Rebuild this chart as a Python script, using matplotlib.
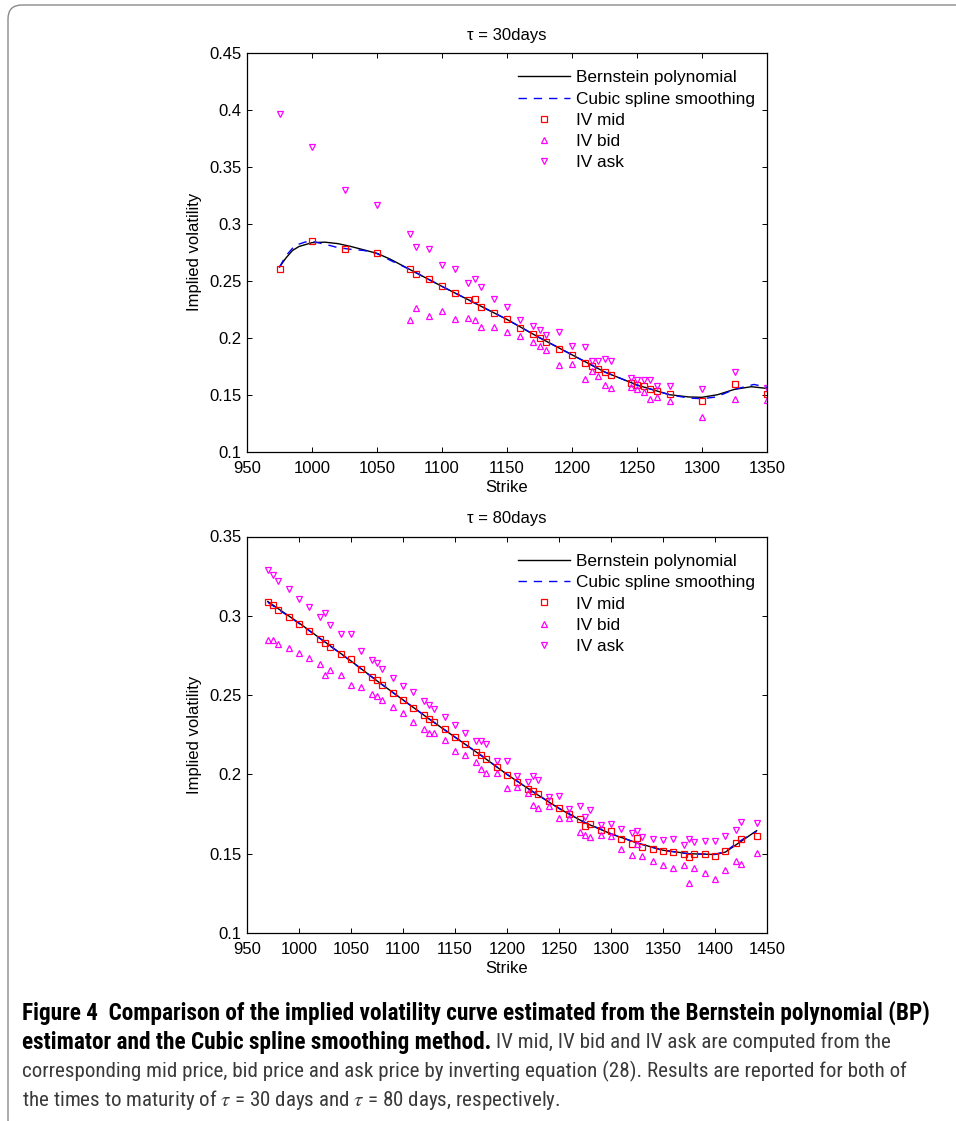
"""Figure 4: implied volatility curves, Bernstein polynomial vs cubic spline."""
import matplotlib
matplotlib.use("Agg")
import matplotlib.pyplot as plt
import numpy as np
from matplotlib.lines import Line2D
from matplotlib.patches import FancyBboxPatch

plt.rcParams.update({"font.family": ["Liberation Sans", "DejaVu Sans"],
                     "font.size": 12, "mathtext.fontset": "stix"})
RED, MAG, BLUE = "#FF0000", "#FF00FF", "#0000FF"
nan = np.nan

# ---- tau = 30 days ----
k30 = [975, 1000, 1025, 1050, 1075, 1080, 1090, 1100, 1110, 1120, 1125, 1130, 1140,
       1150, 1160, 1170, 1175, 1180, 1190, 1200, 1210, 1215, 1220, 1225, 1230, 1245,
       1250, 1255, 1260, 1265, 1275, 1300, 1325, 1350]
mid30 = [.2605, .285, .2775, .2743, .260, .256, .2518, .245, .2395, .233, .2337, .227,
         .2217, .216, .2088, .2032, .1997, .1962, .190, .1846, .178, .1749, .1723, .170,
         .1673, .1603, .1582, .1576, .155, .1532, .1509, .1445, .1597, .1509]
ask30 = [.396, .3675, .330, .316, .291, .280, .278, .264, .2605, .248, .2512, .2442,
         .2337, .2265, .2158, .210, .2065, .2024, .2047, .1925, .1916, .1796, .1796,
         .1812, .1793, .1644, .1626, .1626, .1626, .1574, .1574, .155, .1702, .1559]
bid30 = [nan, nan, nan, nan, .2158, .2258, .219, .2237, .216, .2173, .2152, .2092,
         .2095, .205, .2015, .1962, .1927, .1892, .1758, .1772, .164, .1708, .1664,
         .1583, .1557, .1565, .155, .1524, .146, .1483, .1447, .1307, .146, .1453]
bp30_k = [975, 980, 985, 990, 1000, 1010, 1020, 1030, 1040, 1050, 1060, 1075, 1100,
          1125, 1150, 1175, 1200, 1225, 1250, 1275, 1290, 1300, 1312, 1325, 1338, 1350]
bp30 = [.262, .270, .2765, .280, .2834, .2838, .2825, .2800, .2770, .2740, .2690,
        .2600, .2450, .2305, .2160, .2000, .1850, .1700, .1585, .1500, .1480, .1477,
        .1500, .1547, .1570, .1555]
cs30_k = [975, 980, 987, 995, 1000, 1010, 1020, 1030, 1040, 1050, 1060, 1075, 1100,
          1125, 1150, 1175, 1200, 1225, 1250, 1275, 1290, 1300, 1311, 1325, 1340, 1350]
cs30 = [.262, .272, .281, .284, .2845, .282, .279, .2775, .2765, .2738, .268, .260,
        .245, .2305, .216, .200, .185, .170, .1585, .150, .147, .1465, .148, .1547,
        .159, .1565]

# ---- tau = 80 days ----
k80 = [970, 975, 980, 990, 1000, 1010, 1020, 1025, 1030, 1040, 1050, 1060, 1070, 1075,
       1080, 1090, 1100, 1110, 1120, 1125, 1130, 1140, 1150, 1160, 1170, 1175, 1180,
       1190, 1200, 1210, 1220, 1225, 1230, 1240, 1250, 1260, 1270, 1275, 1280, 1290,
       1300, 1310, 1320, 1325, 1330, 1340, 1350, 1360, 1370, 1375, 1380, 1390, 1400,
       1410, 1420, 1425, 1440]
mid80 = [.3085, .3068, .3037, .2994, .2948, .2904, .2852, .2829, .2803, .2757, .2728,
         .2667, .2612, .2593, .2564, .2515, .2469, .2421, .2375, .2350, .2333, .2288,
         .2234, .2192, .2143, .2120, .2097, .2049, .1998, .1954, .1910, .1895, .1876,
         .1832, .1790, .1748, .1717, .1672, .1685, .1647, .1642, .1591, .1559, .1597,
         .1544, .1528, .1517, .1508, .1496, .1479, .1498, .1496, .1485, .1519, .1566,
         .1593, .1614]
ask80 = [.3289, .3259, .3221, .3167, .3108, .3053, .2994, .3015, .2940, .2883, .2883,
         .2778, .2719, .2700, .2665, .2608, .2560, .2517, .2463, .2437, .2411, .2364,
         .2313, .2263, .2211, .2211, .2190, .2086, .2086, .1992, .1952, .1988, .1965,
         .1859, .1862, .1784, .1802, .1731, .1774, .1679, .1685, .1654, .1629, .1641,
         .1603, .1595, .1586, .1595, .1557, .1593, .1572, .1582, .1582, .1612, .1650,
         .1700, .1692]
bid80 = [.2847, .2847, .2824, .2797, .2767, .2736, .2696, .2627, .2660, .2624, .2562,
         .2553, .2507, .2492, .2467, .2425, .2385, .2328, .2285, .2263, .2261, .2219,
         .2149, .2122, .2078, .2032, .2011, .2006, .1916, .1919, .1881, .1809, .1786,
         .1801, .1723, .1723, .1634, .1619, .1604, .1621, .1610, .1532, .1490, .1560,
         .1486, .1456, .1427, .1412, .1427, .1317, .1410, .1380, .1342, .1397, .1454,
         .1433, .1506]
bp80_k = [970, 1000, 1025, 1050, 1075, 1100, 1125, 1150, 1175, 1200, 1225, 1250, 1275,
          1300, 1325, 1350, 1375, 1400, 1410, 1420, 1430, 1440]
bp80 = [.3090, .2955, .2835, .2715, .2590, .2470, .2350, .2235, .2120, .2000, .1890,
        .1785, .1695, .1625, .1568, .1522, .1500, .1495, .1510, .1555, .1600, .1645]
cs80 = [.3085, .2952, .2833, .2714, .2590, .2469, .2351, .2235, .2121, .2000, .1891,
        .1787, .1697, .1626, .1567, .1521, .1499, .1496, .1514, .1562, .1605, .1640]

W, H = 956, 1121
fig = plt.figure(figsize=(W / 100, H / 100), dpi=100)

# rounded frame around the whole figure
bg = fig.add_axes([0, 0, 1, 1])
bg.set_xlim(0, W); bg.set_ylim(H, 0); bg.axis("off")
bg.add_patch(FancyBboxPatch((8, 5), 1000, 1130, boxstyle="round,pad=0,rounding_size=14",
                            fc="none", ec="#8a8a8a", lw=1.0))


def marks():
    return [dict(ls="none", marker="s", ms=4.2, mfc="none", mec=RED, mew=0.9),
            dict(ls="none", marker="^", ms=5, mfc="none", mec=MAG, mew=0.9),
            dict(ls="none", marker="v", ms=5, mfc="none", mec=MAG, mew=0.9)]


def panel(rect, title, k, mid, bid, ask, ck, bp, cs, xlim, ylim, xt, yt):
    ax = fig.add_axes(rect)
    sq, up, dn = marks()
    ax.plot(ck[0], bp, color="black", lw=1.0)
    ax.plot(ck[1], cs, color=BLUE, lw=1.0, dashes=(6, 5))
    ax.plot(k, mid, **sq)
    ax.plot(k, bid, **up)
    ax.plot(k, ask, **dn)
    ax.set_xlim(*xlim); ax.set_ylim(*ylim)
    ax.set_xticks(xt); ax.set_yticks(yt)
    ax.set_yticklabels([f"{v:g}" for v in yt])
    ax.tick_params(direction="in", top=True, right=True, length=3.6, width=0.7)
    ax.tick_params(axis="x", pad=6.5)
    ax.tick_params(axis="y", pad=4)
    for s in ax.spines.values():
        s.set_linewidth(0.9)
    ax.set_title(title, fontsize=12, pad=9.5)
    ax.set_xlabel("Strike", labelpad=3)
    ax.set_ylabel("Implied volatility", labelpad=5)
    handles = [Line2D([], [], color="black", lw=1.0),
               Line2D([], [], color=BLUE, lw=1.0, dashes=(6, 5)),
               Line2D([], [], **sq), Line2D([], [], **up), Line2D([], [], **dn)]
    ax.legend(handles, ["Bernstein polynomial", "Cubic spline smoothing", "IV mid",
                        "IV bid", "IV ask"], loc="upper left", frameon=False,
              bbox_to_anchor=(0.522, 0.956), borderpad=0, borderaxespad=0,
              handlelength=3.0, handletextpad=0.35, labelspacing=0.36, fontsize=12.4)
    return ax


panel([247 / W, 1 - 451.7 / H, 520 / W, 399 / H], "τ = 30days",
      k30, mid30, bid30, ask30, (bp30_k, cs30_k), bp30, cs30,
      (950, 1350), (0.1, 0.45), np.arange(950, 1351, 50), np.arange(0.1, 0.451, 0.05))
panel([247 / W, 1 - 933 / H, 520 / W, 396.5 / H], "τ = 80days",
      k80, mid80, bid80, ask80, (bp80_k, bp80_k), bp80, cs80,
      (950, 1450), (0.1, 0.35), np.arange(950, 1451, 50), np.arange(0.1, 0.351, 0.05))

# caption
CAP = ["Roboto Condensed", "Liberation Sans Narrow", "Liberation Sans", "DejaVu Sans"]
GREY = "#3a3a3a"
bold1 = "Figure 4  Comparison of the implied volatility curve estimated from the Bernstein polynomial (BP)"
bold2 = "estimator and the Cubic spline smoothing method."
reg2 = " IV mid, IV bid and IV ask are computed from the"
reg3 = "corresponding mid price, bid price and ask price by inverting equation (28). Results are reported for both of"
reg4 = r"the times to maturity of $\tau$ = 30 days and $\tau$ = 80 days, respectively."

fig.canvas.draw()
r = fig.canvas.get_renderer()
t = bg.text(22, 1013, bold1, family=CAP, weight="bold", fontsize=14, va="center")
fsb = 14 * 913 / t.get_window_extent(r).width
t.set_fontsize(fsb)
t3 = bg.text(22, 1071, reg3, family=CAP, fontsize=14, va="center", color=GREY)
fsr = 14 * 890 / t3.get_window_extent(r).width
t3.set_fontsize(fsr)
t2 = bg.text(22, 1042, bold2, family=CAP, weight="bold", fontsize=fsb, va="center")
x2 = t2.get_window_extent(r).x1
bg.text(x2, H - 1042, reg2, family=CAP, fontsize=fsr, va="center", color=GREY,
        transform=None)
bg.text(22, 1100, reg4, family=CAP, fontsize=fsr, va="center", color=GREY)

fig.savefig("out.png", dpi=100)
